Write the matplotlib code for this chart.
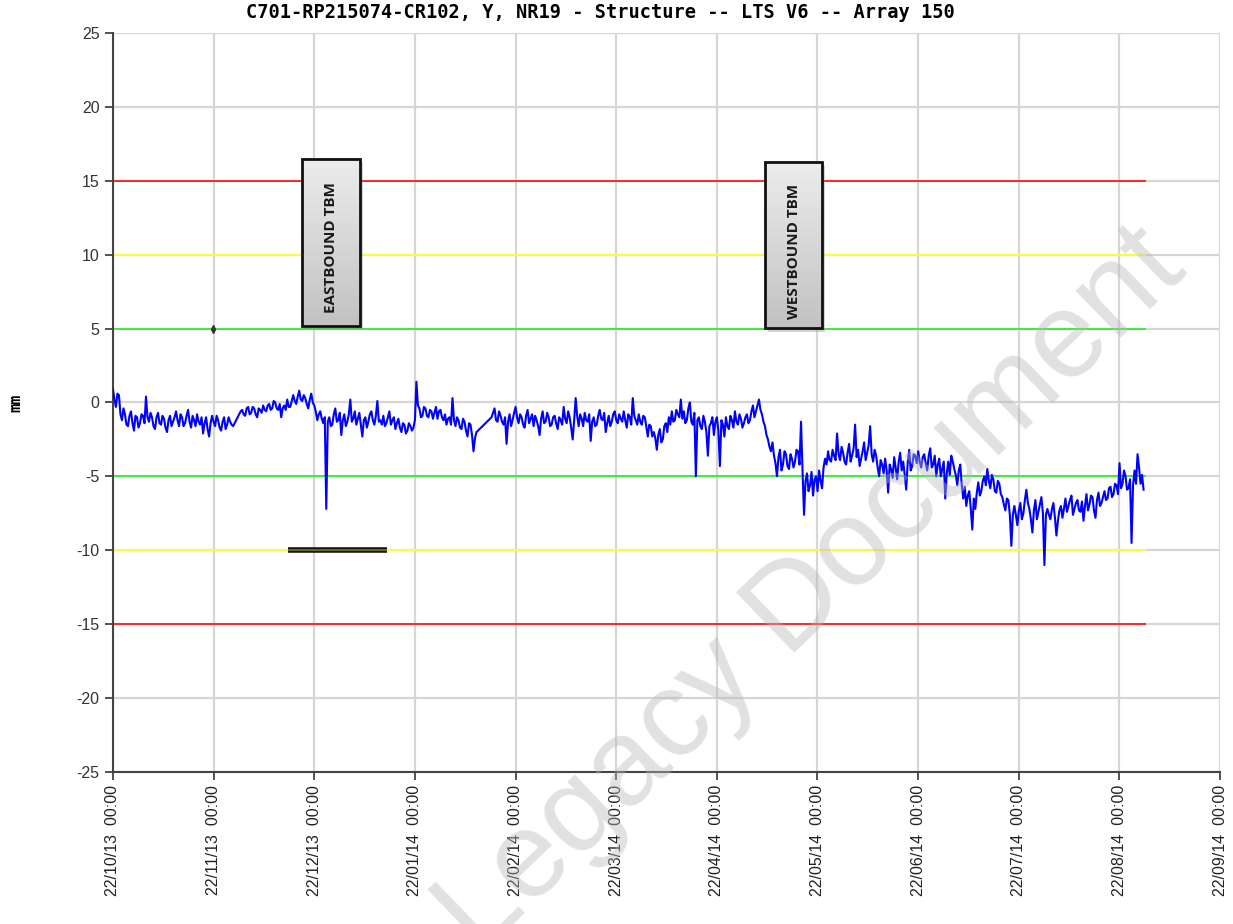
import numpy as np
import matplotlib
matplotlib.use("Agg")
import matplotlib.pyplot as plt
import matplotlib as mpl
from matplotlib.colors import LinearSegmentedColormap
from matplotlib.patches import Rectangle

mpl.rcParams["font.family"] = ["Liberation Sans", "DejaVu Sans"]

title = "C701-RP215074-CR102, Y, NR19 - Structure -- LTS V6 -- Array 150"
ylabel = "mm"
month_labels = ["22/10/13", "22/11/13", "22/12/13", "22/01/14", "22/02/14", "22/03/14",
                "22/04/14", "22/05/14", "22/06/14", "22/07/14", "22/08/14", "22/09/14"]
yticks = [-25, -20, -15, -10, -5, 0, 5, 10, 15, 20, 25]

# alarm / alert / review levels (mm)
limit_levels = [15, 10, 5, -5, -10, -15]
limit_colors = ["#ff1a1a", "#ffff33", "#33ee33", "#33ee33", "#ffff33", "#ff1a1a"]
limit_end = 10.26  # in months from 22/10/13

# monitored displacement (mm), main readings
disp = [
    0.9, -0.3, 0.5, -1.2, -0.8, -1.6, -0.6, -1.9, -1.0, -1.4,
    -0.9, 0.4, -1.3, -1.0, -1.8, -0.7, -1.5, -1.1, -2.0, -0.9,
    -1.3, -0.6, -1.6, -1.0, -1.4, -0.5, -1.7, -1.2, -0.8, -1.5,
    -2.1, -1.0, -2.3, -0.9, -1.6, -1.2, -1.9, -1.0, -1.5, -1.3,
    -1.6, -1.2, -0.8, -0.5, -0.9, -0.3, -0.7, -0.4, -1.0, -0.5,
    -0.2, -0.6, -0.1, -0.4, 0.0, -0.5, -1.0, -0.2, 0.2, -0.3,
    0.5, -0.1, 0.8, 0.1, 0.3, -0.4, 0.6, -0.2, -1.2, -0.6,
    -1.4, -7.2, -1.0, -1.5, -0.4, -1.2, -2.2, -0.8, -1.3, 0.2,
    -1.1, -1.5, -0.7, -2.3, -1.0, -1.3, -0.6, -1.5, 0.1, -1.2,
    -0.9, -1.4, -0.6, -1.2, -1.8, -1.1, -2.0, -1.5, -1.9, -1.6,
    -1.7, 1.4, -0.4, -0.9, -0.4, -1.0, -0.6, -0.7, -1.1, -0.5,
    -1.2, -1.5, -1.0, 0.3, -1.6, -1.2, -1.8, -1.3, -2.3, -1.5,
    -3.3, -2.0, -1.8, -1.6, -1.4, -1.2, -1.0, -0.4, -1.3, -0.9,
    -1.5, -2.8, -0.8, -1.2, -0.3, -1.4, -1.0, -1.7, -0.5, -1.1,
    -1.6, -1.2, -2.2, -0.6, -1.3, -1.0, -1.5, -0.9, -1.8, -1.2,
    -0.3, -1.4, -1.0, -2.5, 0.3, -1.6, -1.1, -0.7, -1.3, -2.6,
    -1.0, -1.5, -0.5, -1.2, -2.0, -0.9, -1.3, -0.6, -1.4, -1.1,
    -0.6, -1.7, -1.0, 0.3, -1.2, -0.8, -1.5, -1.0, -2.3, -1.6,
    -2.0, -3.2, -1.8, -2.5, -1.4, -1.0, -0.6, -1.2, -0.8, 0.2,
    -0.6, -1.2, 0.0, -1.5, -5.0, -1.0, -1.8, -1.3, -3.6, -1.4,
    -2.2, -1.0, -4.3, -1.5, -1.0, -1.8, -1.2, -0.6, -1.5, -1.1,
    -1.4, -0.8, -1.2, -0.2, -0.6, 0.2, -0.8, -1.6, -2.5, -3.3,
    -3.6, -5.0, -3.2, -4.2, -3.5, -4.5, -3.8, -4.0, -3.3, -1.3,
    -7.6, -4.8, -5.6, -6.3, -5.0, -4.6, -5.8, -3.8, -3.3, -4.0,
    -3.6, -2.1, -3.9, -3.4, -4.2, -2.8, -3.6, -1.5, -3.2, -3.8,
    -2.7, -3.4, -1.6, -4.0, -3.6, -5.0, -4.2, -3.8, -6.1, -4.5,
    -3.7, -5.2, -3.4, -4.0, -5.9, -3.2, -4.3, -3.6, -3.3, -4.4,
    -3.5, -4.6, -3.1, -4.2, -5.0, -3.8, -4.5, -6.5, -4.0, -3.6,
    -4.5, -5.6, -4.2, -6.5, -7.0, -6.0, -8.6, -7.2, -5.4, -6.0,
    -5.0, -4.5, -5.8, -5.2, -6.1, -5.5, -6.4, -7.3, -6.6, -9.7,
    -7.0, -8.3, -6.8, -7.5, -5.9, -7.2, -8.8, -6.6, -7.4, -6.4,
    -11.0, -7.2, -7.9, -6.8, -9.0, -7.3, -7.8, -6.5, -7.0, -6.3,
    -7.2, -6.6, -7.4, -8.0, -6.2, -6.9, -6.4, -7.8, -6.1, -6.8,
    -6.0, -6.5, -5.7, -6.2, -5.6, -4.1, -5.5, -5.0, -5.8, -9.5,
    -4.6, -3.5, -5.5, -5.9,
]
# readings taken between the main readings above
disp_mid = [
    0.2, 0.6, -0.8, -0.4, -1.5, -0.9, -1.4, -0.9, -1.7, -0.8,
    -1.4, -1.0, -0.7, -1.6, -1.0, -1.4, -0.9, -1.7, -1.2, -1.6,
    -1.0, -1.2, -0.8, -1.6, -0.9, -1.3, -0.9, -1.6, -1.3, -1.0,
    -1.4, -1.8, -1.4, -1.3, -0.9, -1.7, -1.3, -1.8, -1.0, -1.5,
    -1.4, -1.0, -0.6, -0.8, -0.4, -0.8, -0.3, -0.8, -0.4, -0.7,
    -0.5, -0.2, -0.5, 0.1, -0.4, -0.1, -0.4, -0.5, -0.3, 0.1,
    0.1, 0.4, 0.2, 0.5, -0.1, 0.2, 0.0, -0.6, -0.8, -1.1,
    -1.0, -1.3, -1.6, -0.8, -1.3, -0.7, -1.2, -1.6, -0.8, -1.3,
    -0.6, -1.1, -1.5, -1.2, -1.7, -0.8, -1.2, -0.9, -1.3, -1.5,
    -1.6, -1.0, -1.5, -1.0, -1.4, -1.7, -1.4, -2.1, -1.4, -1.9,
    -1.2, -0.2, -1.0, -0.3, -0.9, -0.5, -1.1, -0.3, -0.6, -1.0,
    -0.8, -1.1, -1.5, -1.2, -1.0, -1.7, -1.1, -1.9, -1.4, -2.2,
    -2.4, -1.9, -1.7, -1.5, -1.3, -1.1, -0.7, -1.2, -0.6, -1.3,
    -1.0, -1.3, -1.6, -0.7, -1.0, -0.8, -1.5, -0.9, -1.4, -0.8,
    -0.9, -1.6, -1.1, -1.4, -0.7, -1.6, -1.0, -1.4, -1.0, -1.5,
    -1.1, -0.6, -1.7, -1.2, -0.9, -0.8, -1.6, -1.2, -0.8, -1.3,
    -1.6, -0.9, -1.1, -0.7, -1.4, -1.6, -0.8, -1.2, -0.8, -1.3,
    -1.2, -0.8, -1.5, -0.9, -1.5, -1.3, -0.9, -1.6, -1.5, -2.3,
    -2.4, -2.2, -2.7, -1.6, -2.0, -1.5, -1.3, -0.5, -1.0, -1.1,
    -1.4, -0.4, -1.3, -0.7, -1.2, -1.6, -0.9, -2.0, -1.6, -1.0,
    -1.3, -1.9, -1.2, -2.3, -1.6, -0.9, -1.7, -1.3, -0.8, -1.7,
    -1.0, -1.4, -0.6, -1.0, -0.2, -0.5, -1.3, -2.2, -3.0, -2.7,
    -4.1, -3.7, -4.6, -3.3, -4.3, -3.5, -4.4, -3.2, -4.2, -4.6,
    -5.3, -6.0, -4.7, -5.2, -6.0, -5.3, -4.4, -4.2, -3.9, -3.2,
    -3.9, -3.5, -3.0, -4.0, -3.4, -4.0, -3.1, -3.7, -4.3, -3.3,
    -3.9, -2.9, -3.5, -3.2, -4.4, -3.9, -4.8, -4.6, -4.2, -5.1,
    -4.4, -4.0, -4.6, -4.9, -4.1, -4.6, -3.5, -4.1, -4.0, -3.7,
    -4.1, -3.6, -4.4, -3.6, -4.2, -5.0, -4.0, -4.8, -4.9, -4.0,
    -4.9, -4.6, -5.6, -5.7, -6.3, -7.2, -6.5, -6.1, -6.3, -5.3,
    -5.6, -5.3, -4.9, -6.0, -5.3, -6.2, -6.9, -6.5, -7.6, -7.6,
    -7.6, -7.3, -7.9, -6.6, -6.8, -7.9, -7.3, -7.9, -6.9, -7.5,
    -7.6, -7.6, -7.2, -7.8, -8.0, -7.0, -7.2, -7.4, -6.6, -7.6,
    -6.8, -7.3, -6.7, -7.0, -7.3, -6.3, -7.3, -6.6, -7.0, -6.4,
    -6.6, -5.8, -6.4, -5.5, -6.2, -5.8, -4.6, -5.9, -5.2, -5.6,
    -5.5, -4.4, -4.9,
]
t_start, t_end = 0.0, 10.24

# annotation boxes: (label, x0, x1, y0, y1) in months / mm
boxes = [("EASTBOUND TBM", 1.879, 2.455, 5.2, 16.5),
         ("WESTBOUND TBM", 6.481, 7.048, 5.05, 16.25)]

readings = []
for a, b in zip(disp, disp_mid + [None]):
    readings.append(a)
    if b is not None:
        readings.append(b)
t = np.linspace(t_start, t_end, len(readings))

fig = plt.figure(figsize=(12.33, 9.24), dpi=100)
ax = fig.add_axes([0.0916, 0.1645, 0.8979, 0.7998])

ax.set_xticks(range(len(month_labels)))
ax.set_xticklabels([m + "  00:00" for m in month_labels], rotation=90, fontsize=11.5, color="#222222")
ax.set_yticks(yticks)
ax.set_yticklabels([str(v) for v in yticks], fontsize=11.5, color="#333333")
ax.grid(True, color="#d6d6d6", linewidth=1.6, zorder=0)
ax.set_axisbelow(True)
for s in ["top", "right"]:
    ax.spines[s].set_visible(False)
for s in ["left", "bottom"]:
    ax.spines[s].set_color("#444444")
    ax.spines[s].set_linewidth(1.5)
ax.tick_params(axis="both", length=6, width=1.3, color="#444444")

for lvl, c in zip(limit_levels, limit_colors):
    ax.hlines(lvl, 0, limit_end, color=c, linewidth=1.3, zorder=2)

# baseline marker + reference bar
ax.plot([0.99], [5], marker="d", markersize=4, color="#333333", zorder=4)
ax.plot([1.74, 2.72], [-10, -10], color="#111111", linewidth=4, solid_capstyle="butt", zorder=3)
ax.plot([1.74, 2.72], [-10, -10], color="#6b6b10", linewidth=1.4, solid_capstyle="butt", zorder=3)

ax.plot(t, readings, color="#0000ff", linewidth=1.5, zorder=4)

grad = np.linspace(0, 1, 50).reshape(-1, 1)
gcmap = LinearSegmentedColormap.from_list("box", ["#c2c2c2", "#ececec"])
for label, x0, x1, y0, y1 in boxes:
    ax.add_patch(Rectangle((x0 + 0.03, y0 - 0.25), x1 - x0, y1 - y0, facecolor="#888888",
                           alpha=0.35, edgecolor="none", zorder=5))
    ax.imshow(grad, extent=[x0, x1, y0, y1], origin="lower", aspect="auto", cmap=gcmap, zorder=6)
    ax.add_patch(Rectangle((x0, y0), x1 - x0, y1 - y0, facecolor="none",
                           edgecolor="#111111", linewidth=2, zorder=7))
    ax.text((x0 + x1) / 2, (y0 + y1) / 2 - 0.4, label, rotation=90, ha="center", va="center",
            fontsize=11, fontweight="bold", family=["Open Sans", "DejaVu Sans"],
            color="#1a1a1a", zorder=8)

ax.set_xlim(0, 11)
ax.set_ylim(-25, 25)

fig.text(600 / 1233, 1 - 13 / 924, title, ha="center", va="center", fontsize=13.4,
         fontweight="bold", family="DejaVu Sans Mono")
fig.text(16 / 1233, 1 - 403 / 924, ylabel, ha="center", va="center", rotation=90,
         fontsize=11, fontweight="bold", family="DejaVu Sans Mono")

# watermark
fig.text(812 / 1233, 1 - 592 / 924, "Legacy Document", rotation=44, ha="center", va="center",
         fontsize=88, color="#b8b8b8", alpha=0.42, zorder=10)

fig.savefig("out.png", dpi=100)
